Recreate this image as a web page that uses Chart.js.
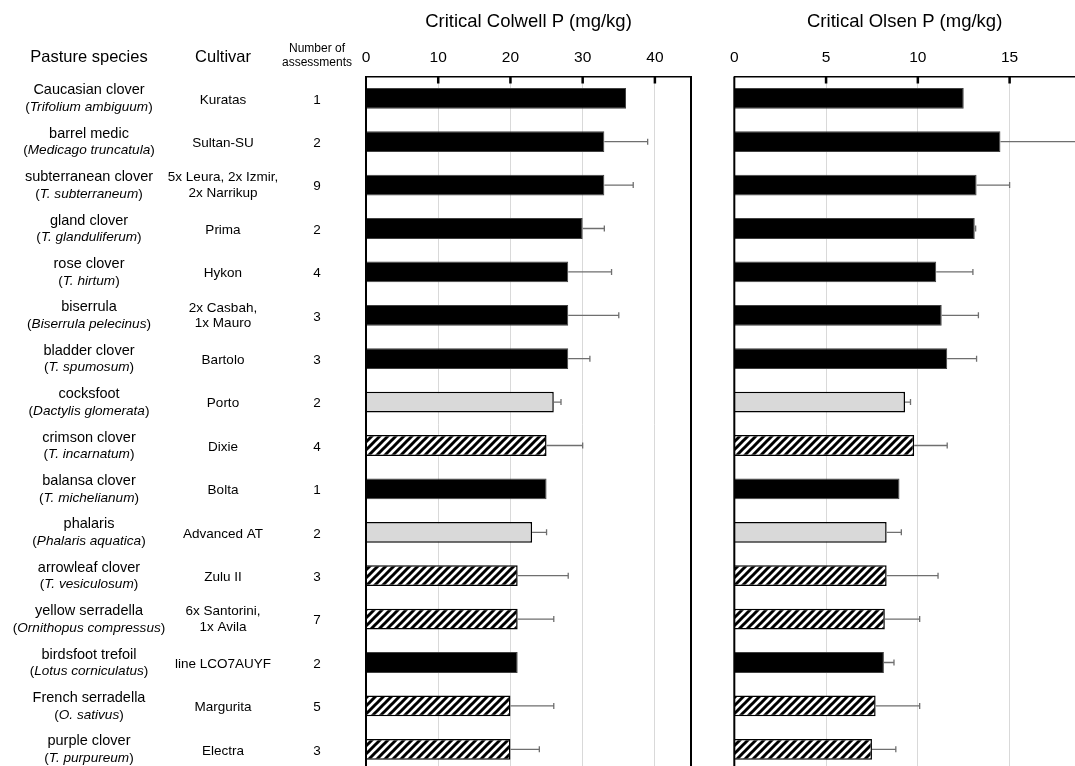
<!DOCTYPE html>
<html>
<head>
<meta charset="utf-8">
<script src="https://cdn.jsdelivr.net/npm/chart.js@4.4.1/dist/chart.umd.min.js"></script>
<style>
  html, body { margin: 0; padding: 0; background: #fff; overflow: hidden; }
  #wrap { position: relative; width: 1075px; height: 766px; overflow: hidden; }
  #colwellBox { position: absolute; left: 0; top: 0; width: 720px; height: 780px; }
  #olsenBox { position: absolute; left: 720px; top: 0; width: 400px; height: 780px; }
</style>
</head>
<body>
<div id="wrap">
  <div id="colwellBox"><canvas id="colwellChart"></canvas></div>
  <div id="olsenBox"><canvas id="olsenChart"></canvas></div>
</div>
<script>
// ---------------- data ----------------
const species = ['Caucasian clover', 'barrel medic', 'subterranean clover', 'gland clover', 'rose clover',
  'biserrula', 'bladder clover', 'cocksfoot', 'crimson clover', 'balansa clover', 'phalaris',
  'arrowleaf clover', 'yellow serradella', 'birdsfoot trefoil', 'French serradella', 'purple clover'];
const latinNames = ['Trifolium ambiguum', 'Medicago truncatula', 'T. subterraneum', 'T. glanduliferum', 'T. hirtum',
  'Biserrula pelecinus', 'T. spumosum', 'Dactylis glomerata', 'T. incarnatum', 'T. michelianum', 'Phalaris aquatica',
  'T. vesiculosum', 'Ornithopus compressus', 'Lotus corniculatus', 'O. sativus', 'T. purpureum'];
const cultivars = ['Kuratas', 'Sultan-SU', ['5x Leura, 2x Izmir,', '2x Narrikup'], 'Prima', 'Hykon',
  ['2x Casbah,', '1x Mauro'], 'Bartolo', 'Porto', 'Dixie', 'Bolta', 'Advanced AT', 'Zulu II',
  ['6x Santorini,', '1x Avila'], 'line LCO7AUYF', 'Margurita', 'Electra'];
const assessments = [1, 2, 9, 2, 4, 3, 3, 2, 4, 1, 2, 3, 7, 2, 5, 3];

// 1 = black, 2 = grey, 3 = hatched
const groups = [1, 1, 1, 1, 1, 1, 1, 2, 3, 1, 2, 3, 3, 1, 3, 3];

const colwellP = [36, 33, 33, 30, 28, 28, 28, 26, 25, 25, 23, 21, 21, 21, 20, 20];
const colwellErr = [0, 6, 4, 3, 6, 7, 3, 1, 5, 0, 2, 7, 5, 0, 6, 4];
const olsenP = [12.5, 14.5, 13.2, 13.1, 11.0, 11.3, 11.6, 9.3, 9.8, 9.0, 8.3, 8.3, 8.2, 8.15, 7.7, 7.5];
const olsenErr = [0, 4.5, 1.8, 0.05, 2.0, 2.0, 1.6, 0.3, 1.8, 0, 0.8, 2.8, 1.9, 0.55, 2.4, 1.3];

const colwellTicks = [0, 10, 20, 30, 40];
const olsenTicks = [0, 5, 10, 15, 20];

// ---------------- styles ----------------
const FONT = 'Liberation Sans, Arial, sans-serif';
Chart.defaults.font.family = FONT;
Chart.defaults.color = '#000';

function makeHatch() {
  const c = document.createElement('canvas');
  c.width = 8; c.height = 8;
  const g = c.getContext('2d');
  g.fillStyle = '#fff';
  g.fillRect(0, 0, 8, 8);
  g.strokeStyle = '#000';
  g.lineWidth = 3;
  g.beginPath();
  g.moveTo(-2, 10); g.lineTo(10, -2);
  g.moveTo(-2, 2); g.lineTo(2, -2);
  g.moveTo(6, 10); g.lineTo(10, 6);
  g.stroke();
  return g.createPattern(c, 'repeat');
}
const hatch = makeHatch();
const fillFor = { 1: '#000000', 2: '#d9d9d9', 3: hatch };
const edgeFor = { 1: '#404040', 2: '#000000', 3: '#000000' };
const edgeWidthFor = { 1: 1, 2: 1.5, 3: 1.5 };

// ---------------- plugins ----------------
const errorBars = {
  id: 'errorBars',
  afterDatasetsDraw(chart, args, opts) {
    const ctx = chart.ctx, xs = chart.scales.x, ys = chart.scales.y, a = chart.chartArea;
    const vals = chart.data.datasets[0].data;
    ctx.save();
    ctx.beginPath();
    ctx.rect(a.left, a.top, a.right - a.left, a.bottom - a.top);
    ctx.clip();
    ctx.strokeStyle = '#6f6f6f';
    ctx.lineWidth = 1.3;
    vals.forEach((v, i) => {
      const e = opts.errors[i];
      if (!e) return;
      const y = ys.getPixelForValue(i);
      const x0 = xs.getPixelForValue(v);
      const x1 = xs.getPixelForValue(v + e);
      ctx.beginPath();
      ctx.moveTo(x0, y); ctx.lineTo(x1, y);
      ctx.moveTo(x1, y - 3); ctx.lineTo(x1, y + 3);
      ctx.stroke();
    });
    ctx.restore();
  }
};

const frame = {
  id: 'frame',
  afterDraw(chart, args, opts) {
    const ctx = chart.ctx, a = chart.chartArea, xs = chart.scales.x;
    ctx.save();
    ctx.strokeStyle = '#000';
    ctx.lineWidth = 2;
    ctx.beginPath();
    ctx.moveTo(a.left, a.top); ctx.lineTo(a.left, a.bottom);
    ctx.moveTo(a.right, a.top); ctx.lineTo(a.right, a.bottom);
    ctx.stroke();
    // inward tick marks on the top axis
    ctx.lineWidth = 2.5;
    ctx.beginPath();
    xs.ticks.forEach(t => {
      if (t.value === xs.min) return;
      const x = xs.getPixelForValue(t.value);
      ctx.moveTo(x, a.top); ctx.lineTo(x, a.top + 7);
    });
    ctx.stroke();

    // panel title, centred over the visible part of the plot
    const visRight = window.innerWidth - chart.canvas.getBoundingClientRect().left;
    const cx = (a.left + Math.min(a.right, visRight)) / 2;
    ctx.fillStyle = '#000';
    ctx.font = '18.5px ' + FONT;
    ctx.textAlign = 'center';
    ctx.textBaseline = 'middle';
    ctx.fillText(opts.text, cx, 22);
    ctx.restore();
  }
};

// species / cultivar / count columns on the left
const leftTable = {
  id: 'leftTable',
  afterDraw(chart) {
    const ctx = chart.ctx, ys = chart.scales.y;
    ctx.save();
    ctx.fillStyle = '#000';
    ctx.textBaseline = 'middle';
    ctx.textAlign = 'center';

    ctx.font = '16.5px ' + FONT;
    ctx.fillText('Pasture species', 89, 57);
    ctx.fillText('Cultivar', 223, 57);
    ctx.font = '12px ' + FONT;
    ctx.fillText('Number of', 317, 49);
    ctx.fillText('assessments', 317, 62.5);

    species.forEach((name, i) => {
      const y = ys.getPixelForValue(i);
      ctx.textAlign = 'center';
      ctx.font = '14.5px ' + FONT;
      ctx.fillText(name, 89, y - 8);

      // "(" + italic latin name + ")"
      const normal = '13.6px ' + FONT, italic = 'italic 13.6px ' + FONT;
      ctx.font = normal;
      const wp = ctx.measureText('(').width;
      ctx.font = italic;
      const wn = ctx.measureText(latinNames[i]).width;
      let x = 89 - (wp * 2 + wn) / 2;
      ctx.textAlign = 'left';
      ctx.font = normal; ctx.fillText('(', x, y + 9); x += wp;
      ctx.font = italic; ctx.fillText(latinNames[i], x, y + 9); x += wn;
      ctx.font = normal; ctx.fillText(')', x, y + 9);

      ctx.textAlign = 'center';
      ctx.font = '13.5px ' + FONT;
      const cv = cultivars[i];
      if (Array.isArray(cv)) {
        ctx.fillText(cv[0], 223, y - 7.5);
        ctx.fillText(cv[1], 223, y + 8);
      } else {
        ctx.fillText(cv, 223, y + 1.5);
      }
      ctx.fillText(String(assessments[i]), 317, y + 1.5);
    });
    ctx.restore();
  }
};

// ---------------- charts ----------------
function makeChart(id, values, errors, tickVals, cfg) {
  return new Chart(document.getElementById(id), {
    type: 'bar',
    data: {
      labels: species,
      datasets: [{
        data: values,
        backgroundColor: groups.map(g => fillFor[g]),
        borderColor: groups.map(g => edgeFor[g]),
        borderWidth: groups.map(g => edgeWidthFor[g]),
        barPercentage: 0.48,
        categoryPercentage: 1
      }]
    },
    options: {
      indexAxis: 'y',
      responsive: true,
      maintainAspectRatio: false,
      animation: false,
      layout: { padding: { left: cfg.padLeft, right: cfg.padRight, top: 38, bottom: 9 } },
      plugins: {
        legend: { display: false },
        tooltip: { enabled: false },
        errorBars: { errors: errors },
        frame: { text: cfg.title }
      },
      scales: {
        x: {
          position: 'top',
          min: tickVals[0],
          max: cfg.max,
          afterBuildTicks: scale => { scale.ticks = tickVals.map(v => ({ value: v })); },
          ticks: { padding: 10, font: { size: 15.5 }, color: '#000' },
          grid: { color: '#d9d9d9', lineWidth: 1, drawTicks: false },
          border: { display: true, color: '#000', width: 1.5 },
          title: { display: false }
        },
        y: { display: false }
      }
    },
    plugins: cfg.extra.concat([errorBars, frame])
  });
}

makeChart('colwellChart', colwellP, colwellErr, colwellTicks,
  { max: 45, title: 'Critical Colwell P (mg/kg)', padLeft: 366, padRight: 29, extra: [leftTable] });
makeChart('olsenChart', olsenP, olsenErr, olsenTicks,
  { max: 20, title: 'Critical Olsen P (mg/kg)', padLeft: 13, padRight: 15, extra: [] });
</script>
</body>
</html>
